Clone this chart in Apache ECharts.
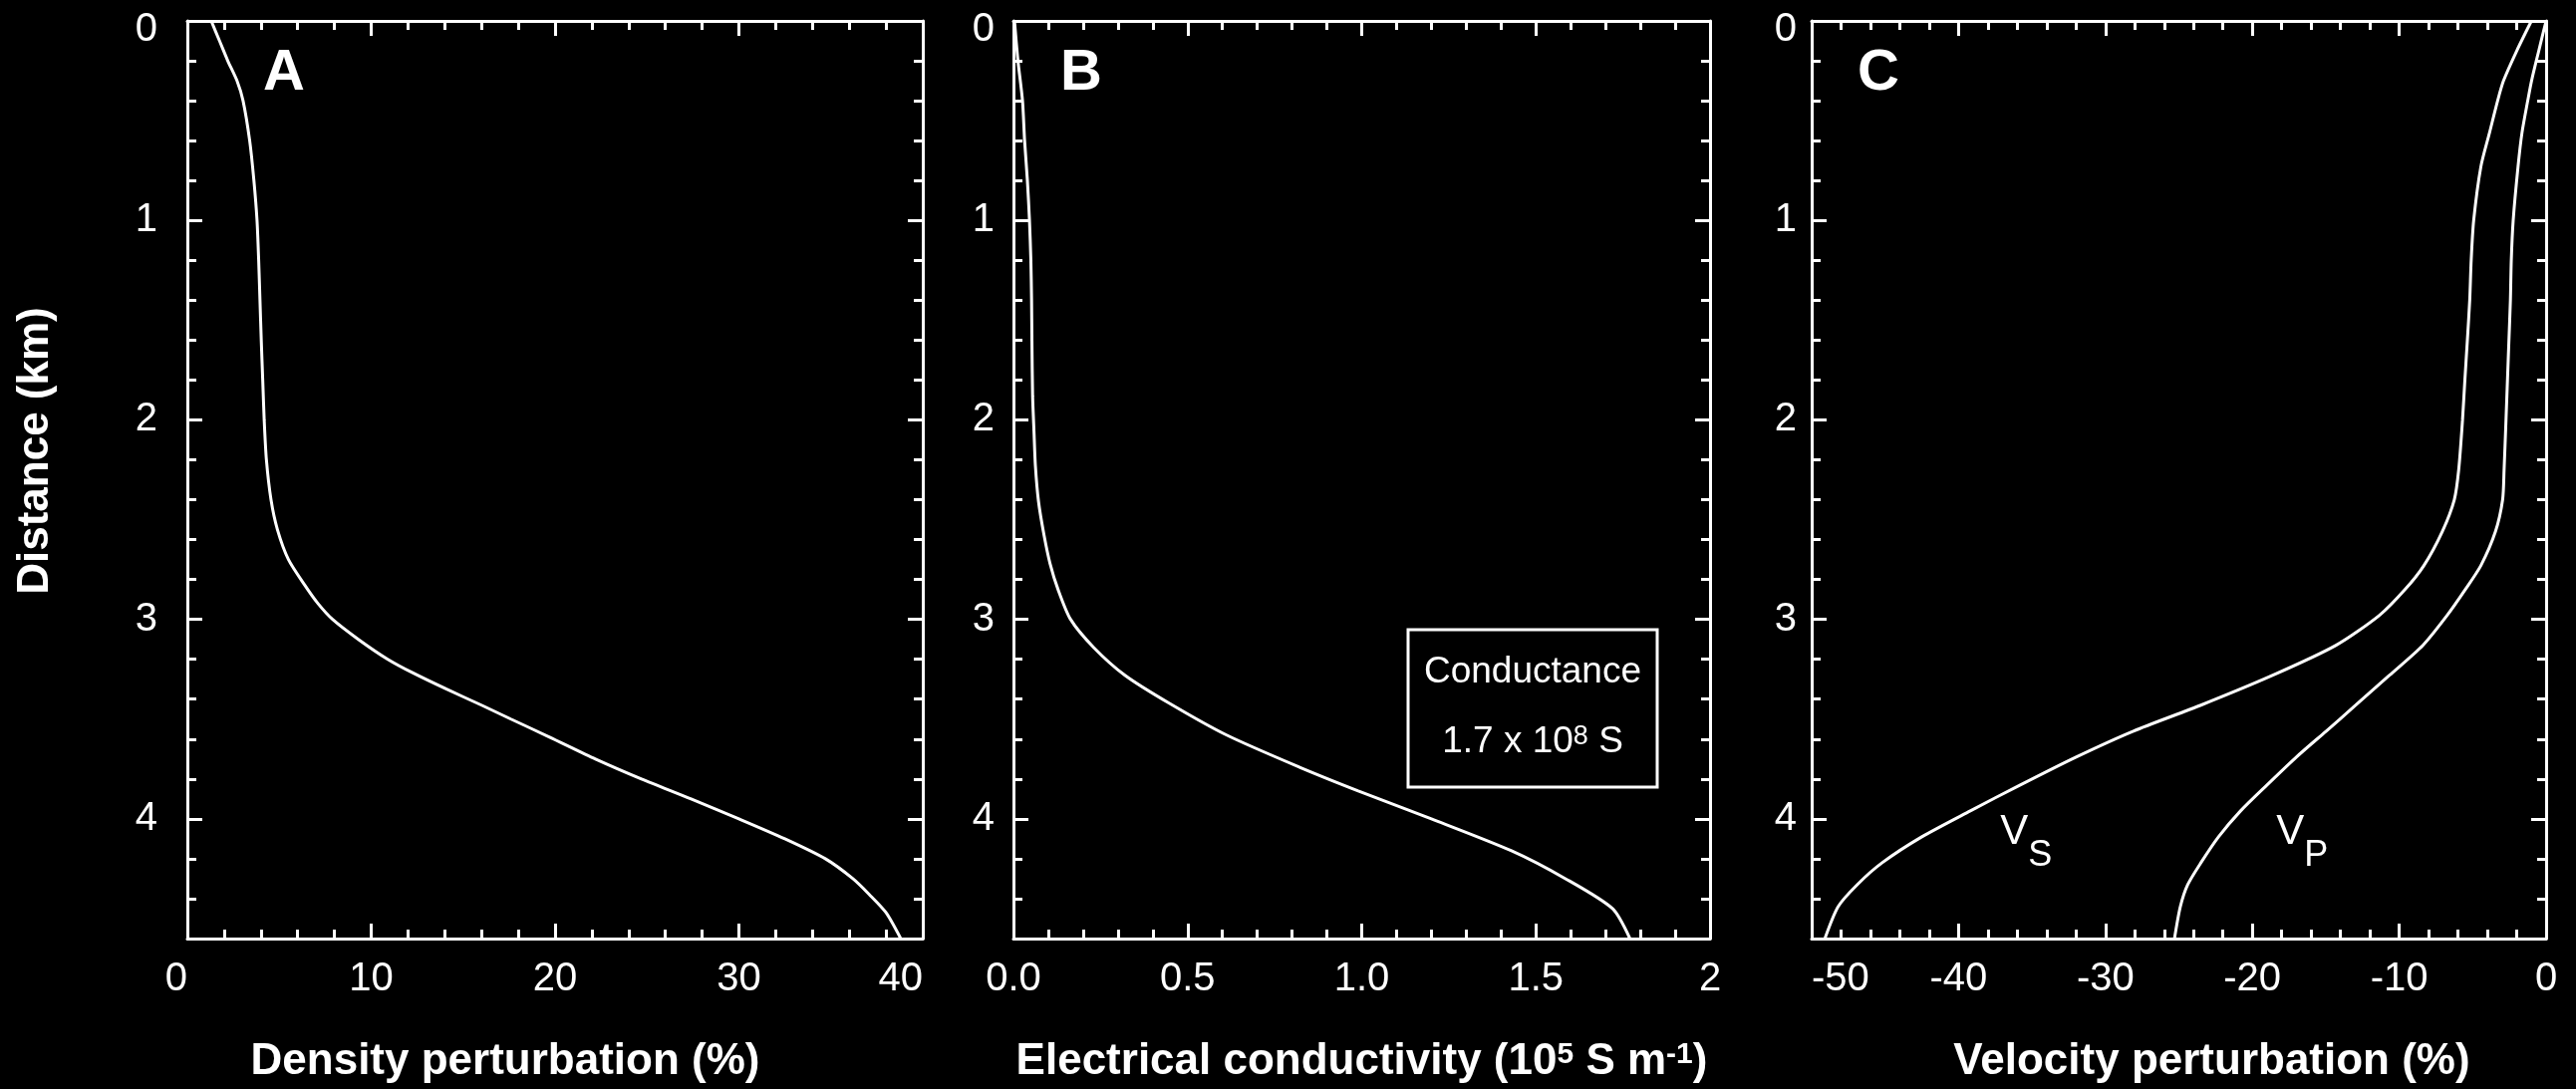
<!DOCTYPE html>
<html>
<head>
<meta charset="utf-8">
<script src="https://cdn.jsdelivr.net/npm/echarts@6/dist/echarts.min.js"></script>
<style>
html, body { margin: 0; padding: 0; background: #000; }
#chart { width: 2585px; height: 1093px; }
</style>
</head>
<body>
<div id="chart"></div>
<script>
// A: density perturbation (%) vs distance (km)
var depthA = [0, 0.1, 0.2, 0.3, 0.4, 0.6, 0.8, 1.0, 1.2, 1.4, 1.6, 1.8, 2.0, 2.2, 2.4, 2.55, 2.7, 2.83, 2.92, 3.0, 3.1, 3.2, 3.27, 3.35, 3.43, 3.5, 3.59, 3.7, 3.8, 3.9, 4.0, 4.1, 4.2, 4.3, 4.38, 4.47, 4.6];
var densityA = [1.3, 1.75, 2.2, 2.7, 3.03, 3.39, 3.62, 3.79, 3.88, 3.95, 4.02, 4.1, 4.18, 4.3, 4.55, 4.9, 5.5, 6.4, 7.1, 7.9, 9.3, 10.9, 12.3, 14.1, 16.0, 17.6, 19.7, 22.2, 24.7, 27.4, 30.0, 32.5, 34.7, 36.2, 37.1, 38.0, 38.8];

// B: electrical conductivity (10^5 S/m)
var depthB = [0, 0.2, 0.4, 0.6, 0.8, 1.0, 1.2, 1.4, 1.6, 1.88, 2.06, 2.23, 2.41, 2.58, 2.72, 2.85, 3.0, 3.14, 3.28, 3.42, 3.58, 3.74, 3.86, 4.0, 4.16, 4.3, 4.45, 4.6];
var condB = [0.003, 0.013, 0.026, 0.032, 0.04, 0.046, 0.05, 0.052, 0.053, 0.055, 0.059, 0.063, 0.072, 0.088, 0.105, 0.128, 0.164, 0.23, 0.32, 0.447, 0.612, 0.82, 0.99, 1.2, 1.43, 1.585, 1.72, 1.77];

// C: velocity perturbation (%)
var depthC = [0, 0.15, 0.3, 0.4, 0.56, 0.73, 1.0, 1.2, 1.4, 1.6, 1.8, 2.0, 2.25, 2.4, 2.56, 2.73, 2.85, 2.98, 3.13, 3.28, 3.43, 3.56, 3.69, 3.83, 3.96, 4.09, 4.22, 4.33, 4.44, 4.6];
var velS = [-1.0, -2.0, -2.9, -3.3, -3.85, -4.44, -4.93, -5.1, -5.2, -5.36, -5.53, -5.69, -5.95, -6.25, -7.07, -8.32, -9.6, -11.35, -14.3, -18.6, -23.5, -28.1, -32.0, -35.8, -39.2, -42.5, -45.2, -46.9, -48.2, -49.1];
var velP = [0, -0.5, -0.99, -1.25, -1.64, -1.91, -2.24, -2.37, -2.43, -2.53, -2.63, -2.73, -2.86, -2.96, -3.45, -4.44, -5.5, -6.74, -8.39, -10.66, -12.96, -14.97, -17.0, -19.0, -20.8, -22.3, -23.5, -24.4, -24.9, -25.3];

// curve labels (data coords)
var labelVs = [-35.4, 4.07];
var labelVp = [-16.6, 4.07];

var white = '#ffffff';
var fontName = "'Liberation Sans', Arial, Helvetica, sans-serif";

function pairs(xs, ys) {
	var out = [];
	for(var i = 0; i < xs.length; i++) {
		out.push([xs[i], ys[i]]);
	}
	return out;
}

function baseAxis(gridIndex, position, min, max, interval) {
	return {
		type: 'value',
		gridIndex: gridIndex,
		position: position,
		min: min,
		max: max,
		interval: interval,
		axisLine: { show: true, onZero: false, lineStyle: { color: white, width: 3 } },
		axisTick: { show: true, inside: true, length: 15, lineStyle: { color: white, width: 3 } },
		minorTick: { show: true, splitNumber: 5, length: 9, lineStyle: { color: white, width: 3 } },
		splitLine: { show: false },
		minorSplitLine: { show: false },
		axisLabel: { show: false }
	};
}

function tickLabel(margin) {
	return { show: true, color: white, fontSize: 40, fontFamily: fontName, margin: margin };
}

function nameStyle(padding) {
	return { color: white, fontSize: 44, fontWeight: 'bold', fontFamily: fontName, padding: padding };
}

// bottom x axes
var xA = baseAxis(0, 'bottom', 0, 40, 10);
xA.axisLabel = tickLabel(21);
xA.axisLabel.alignMinLabel = 'right';
xA.axisLabel.alignMaxLabel = 'right';
xA.name = 'Density perturbation (%)';
xA.nameLocation = 'middle';
xA.nameGap = 102;
xA.nameTextStyle = nameStyle([0, 100, 0, 0]);

var xB = baseAxis(1, 'bottom', 0, 2, 0.5);
xB.axisLabel = tickLabel(21);
xB.axisLabel.formatter = function(v) {
	return v === 2 ? '2' : v.toFixed(1);
};
xB.name = 'Electrical conductivity (10{sup|5}{b| S m}{sup|-1}{b|)}';
xB.nameLocation = 'middle';
xB.nameGap = 102;
xB.nameTextStyle = nameStyle([0, 0, 0, 0]);
xB.nameTextStyle.rich = {
	b: { color: white, fontSize: 44, fontWeight: 'bold', fontFamily: fontName },
	sup: { color: white, fontSize: 30, fontWeight: 'bold', fontFamily: fontName, verticalAlign: 'top' }
};

var xC = baseAxis(2, 'bottom', -50, 0, 10);
xC.axisLabel = tickLabel(21);
xC.axisLabel.alignMinLabel = 'left';
xC.name = 'Velocity perturbation (%)';
xC.nameLocation = 'middle';
xC.nameGap = 102;
xC.nameTextStyle = nameStyle([0, 0, 0, 66]);

// left y axes; the 0 at the top sits a little below its tick
function leftY(gridIndex, margin) {
	var y = baseAxis(gridIndex, 'left', 0, 4.6, 1);
	y.inverse = true;
	y.axisLabel = tickLabel(margin);
	y.axisLabel.showMaxLabel = false;
	y.axisLabel.formatter = function(v) {
		return v === 0 ? '{z|0}' : String(v);
	};
	y.axisLabel.rich = {
		z: { color: white, fontSize: 40, fontFamily: fontName, padding: [18, 0, 0, 0] }
	};
	return y;
}
function rightY(gridIndex) {
	var y = baseAxis(gridIndex, 'right', 0, 4.6, 1);
	y.inverse = true;
	return y;
}

var yA = leftY(0, 30);
yA.name = 'Distance (km)';
yA.nameLocation = 'middle';
yA.nameRotate = 90;
yA.nameGap = 130;
yA.nameTextStyle = nameStyle([0, 0, 0, 58]);

function lineSeries(name, xi, data) {
	return {
		name: name,
		type: 'line',
		xAxisIndex: xi,
		yAxisIndex: xi,
		data: data,
		showSymbol: false,
		symbol: 'none',
		smooth: 0.25,
		lineStyle: { color: white, width: 3 }
	};
}

function curveLabel(coord, sub) {
	return {
		symbol: 'circle',
		symbolSize: 0,
		silent: true,
		data: [{
			coord: coord,
			label: {
				show: true,
				position: 'inside',
				formatter: '{v|V}{s|' + sub + '}',
				rich: {
					v: { color: white, fontSize: 42, lineHeight: 42, fontFamily: fontName, verticalAlign: 'top' },
					s: { color: white, fontSize: 36, lineHeight: 36, fontFamily: fontName, verticalAlign: 'top', padding: [26, 0, 0, 0] }
				}
			}
		}]
	};
}

var seriesVs = lineSeries('Vs', 2, pairs(velS, depthC));
seriesVs.markPoint = curveLabel(labelVs, 'S');
var seriesVp = lineSeries('Vp', 2, pairs(velP, depthC));
seriesVp.markPoint = curveLabel(labelVp, 'P');

var letterStyle = { color: white, fontSize: 58, fontWeight: 'bold', fontFamily: fontName };

var option = {
	backgroundColor: '#000000',
	animation: false,
	textStyle: { fontFamily: fontName, color: white },
	title: [
		{ text: 'A', left: 264, top: 45, padding: 0, textStyle: letterStyle },
		{ text: 'B', left: 1064, top: 45, padding: 0, textStyle: letterStyle },
		{ text: 'C', left: 1864, top: 45, padding: 0, textStyle: letterStyle }
	],
	grid: [
		{ left: 188, top: 21, width: 738, height: 922 },
		{ left: 1017, top: 21, width: 699, height: 922 },
		{ left: 1818, top: 21, width: 737, height: 922 }
	],
	xAxis: [
		xA, xB, xC,
		baseAxis(0, 'top', 0, 40, 10),
		baseAxis(1, 'top', 0, 2, 0.5),
		baseAxis(2, 'top', -50, 0, 10)
	],
	yAxis: [
		yA, leftY(1, 19), leftY(2, 15),
		rightY(0), rightY(1), rightY(2)
	],
	graphic: [
		{
			type: 'rect',
			shape: { x: 1413, y: 632, width: 250, height: 158 },
			style: { fill: 'transparent', stroke: white, lineWidth: 3 }
		},
		{
			type: 'text',
			x: 1538,
			y: 675,
			style: {
				text: 'Conductance',
				fill: white,
				fontSize: 37,
				fontFamily: fontName,
				align: 'center',
				verticalAlign: 'middle'
			}
		},
		{
			type: 'text',
			x: 1538,
			y: 745,
			style: {
				text: '1.7 x 10{sup|8} S',
				fill: white,
				fontSize: 37,
				fontFamily: fontName,
				align: 'center',
				verticalAlign: 'middle',
				rich: {
					sup: { fill: white, fontSize: 27, fontFamily: fontName, verticalAlign: 'top' }
				}
			}
		}
	],
	series: [
		lineSeries('density', 0, pairs(densityA, depthA)),
		lineSeries('conductivity', 1, pairs(condB, depthB)),
		seriesVs,
		seriesVp
	]
};

var chart = echarts.init(document.getElementById('chart'));
chart.setOption(option);
</script>
</body>
</html>
